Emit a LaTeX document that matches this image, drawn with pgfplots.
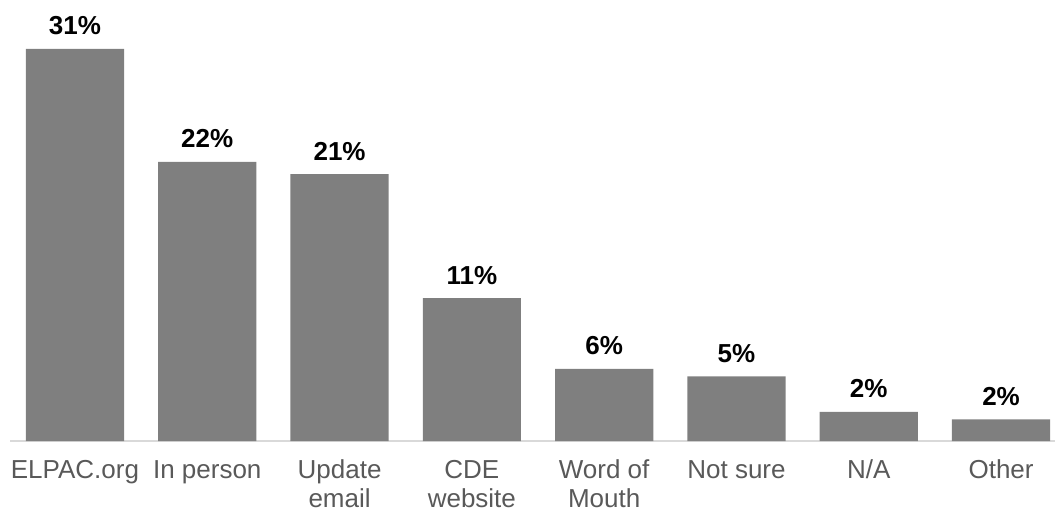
\documentclass[border=0pt]{standalone}
\usepackage{pgfplots}
\pgfplotsset{compat=1.18}
\usepackage{pgfplotstable}
\usepackage{fontspec}
\setmainfont{Liberation Sans}
\definecolor{barc}{HTML}{7F7F7F}
\definecolor{lblc}{HTML}{595959}
\definecolor{axc}{HTML}{D9D9D9}
\pgfplotstableread{
x y lab
0 31.0 31
1 22.06 22
2 21.1 21
3 11.3 11
4 5.7 6
5 5.1 5
6 2.3 2
7 1.7 2
}\datatab
\begin{document}
\begin{tikzpicture}
\useasboundingbox (-10bp,-73bp) rectangle (1045bp,441bp);
\begin{axis}[
  scale only axis, width=1045bp, height=441bp,
  xmin=-0.491, xmax=7.408, ymin=0, ymax=34.86,
  axis x line=bottom, axis y line=none,
  x axis line style={draw=axc, line width=1.5bp, -},
  major tick length=0pt,
  xtick=data,
  xticklabels={\strut ELPAC.org,\strut In person,\strut Update\\email,\strut CDE\\website,\strut Word of\\Mouth,\strut Not sure,\strut N/A,\strut Other},
  xticklabel style={font=\fontsize{26bp}{29bp}\selectfont, text=lblc, align=center, inner sep=0pt, anchor=north, yshift=-17bp},
  ytick=\empty,
  clip=false,
  bar width=0.742,
  nodes near coords={\pgfplotspointmeta\%},
  point meta=explicit symbolic,
  every node near coord/.append style={font=\fontsize{26bp}{30bp}\selectfont\bfseries, text=black, inner sep=0pt, anchor=base, yshift=14bp},
]
\addplot[ybar, fill=barc, draw=none] table[x=x, y=y, meta=lab] {\datatab};
\end{axis}
\end{tikzpicture}
\end{document}
